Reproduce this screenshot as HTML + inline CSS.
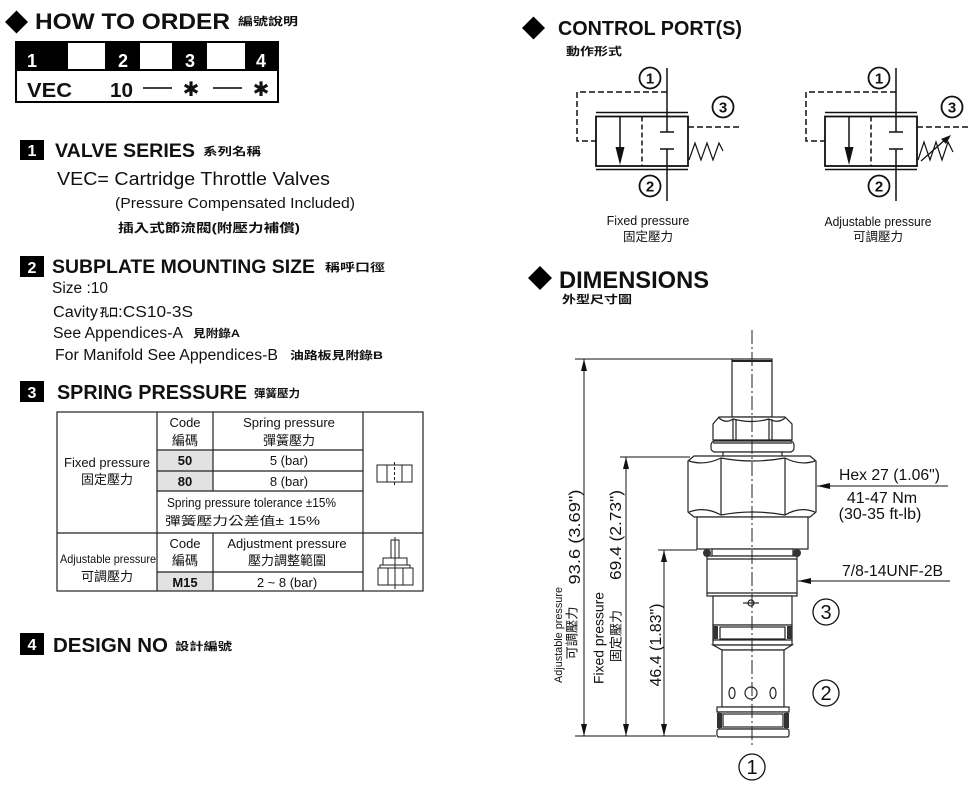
<!DOCTYPE html>
<html><head><meta charset="utf-8"><style>
html,body{margin:0;padding:0;background:#fff;}
svg{display:block;}
text{font-family:"Liberation Sans","Noto Sans CJK TC",sans-serif;fill:#111;}
.b{font-weight:bold;}
.cj{font-family:"Liberation Sans","Noto Sans CJK TC",sans-serif;}
</style></head><body>
<svg width="980" height="794" viewBox="0 0 980 794" xmlns="http://www.w3.org/2000/svg">
<rect width="980" height="794" fill="#fff"/>

<!-- HOW TO ORDER -->
<polygon points="5,22 16.5,10.5 28,22 16.5,33.5" fill="#000"/>
<text x="35" y="29" class="b" font-size="22" textLength="195" lengthAdjust="spacingAndGlyphs">HOW TO  ORDER</text>
<text x="238" y="25" class="b" font-size="11" textLength="60" lengthAdjust="spacingAndGlyphs">編號說明</text>

<rect x="16" y="42" width="262" height="60" fill="none" stroke="#000" stroke-width="2"/>
<rect x="16" y="42" width="52" height="28" fill="#000"/>
<rect x="105" y="42" width="35" height="28" fill="#000"/>
<rect x="172" y="42" width="35" height="28" fill="#000"/>
<rect x="245" y="42" width="33" height="28" fill="#000"/>
<line x1="16" y1="70" x2="278" y2="70" stroke="#000" stroke-width="2"/>
<text x="32" y="67" class="b" font-size="18" fill="#fff" text-anchor="middle" style="fill:#fff">1</text>
<text x="123" y="67" class="b" font-size="18" text-anchor="middle" style="fill:#fff">2</text>
<text x="190" y="67" class="b" font-size="18" text-anchor="middle" style="fill:#fff">3</text>
<text x="261" y="67" class="b" font-size="18" text-anchor="middle" style="fill:#fff">4</text>
<text x="27" y="97" class="b" font-size="20" textLength="45" lengthAdjust="spacingAndGlyphs">VEC</text>
<text x="110" y="97" class="b" font-size="20" textLength="23" lengthAdjust="spacingAndGlyphs">10</text>
<line x1="143" y1="88" x2="172" y2="88" stroke="#000" stroke-width="1.5"/>
<line x1="213" y1="88" x2="242" y2="88" stroke="#000" stroke-width="1.5"/>
<text x="191" y="96" font-size="20" text-anchor="middle" style="font-family:'DejaVu Sans',sans-serif">✱</text>
<text x="261" y="96" font-size="20" text-anchor="middle" style="font-family:'DejaVu Sans',sans-serif">✱</text>

<!-- Section 1 -->
<rect x="20" y="140" width="24" height="20" fill="#000"/>
<text x="32" y="156" class="b" font-size="16" text-anchor="middle" style="fill:#fff">1</text>
<text x="55" y="157" class="b" font-size="19.5" textLength="140" lengthAdjust="spacingAndGlyphs">VALVE SERIES</text>
<text x="203" y="155" class="b" font-size="11" textLength="58" lengthAdjust="spacingAndGlyphs">系列名稱</text>
<text x="57" y="185" font-size="18.5" textLength="273" lengthAdjust="spacingAndGlyphs">VEC= Cartridge Throttle Valves</text>
<text x="115" y="208" font-size="15" textLength="240" lengthAdjust="spacingAndGlyphs">(Pressure Compensated Included)</text>
<text x="118" y="232" class="b" font-size="12" textLength="182" lengthAdjust="spacingAndGlyphs">插入式節流閥(附壓力補償)</text>

<!-- Section 2 -->
<rect x="20" y="256" width="24" height="21" fill="#000"/>
<text x="32" y="273" class="b" font-size="16" text-anchor="middle" style="fill:#fff">2</text>
<text x="52" y="273" class="b" font-size="19.5" textLength="263" lengthAdjust="spacingAndGlyphs">SUBPLATE MOUNTING SIZE</text>
<text x="325" y="271" class="b" font-size="11" textLength="60" lengthAdjust="spacingAndGlyphs">稱呼口徑</text>
<text x="52" y="293" font-size="15.5" textLength="56" lengthAdjust="spacingAndGlyphs">Size :10</text>
<text x="53" y="317" font-size="15.5" textLength="45" lengthAdjust="spacingAndGlyphs">Cavity</text>
<text x="100" y="316" class="b" font-size="11" textLength="18" lengthAdjust="spacingAndGlyphs">孔口</text>
<text x="118" y="317" font-size="15.5" textLength="75" lengthAdjust="spacingAndGlyphs">:CS10-3S</text>
<text x="53" y="338" font-size="15.5" textLength="130" lengthAdjust="spacingAndGlyphs">See Appendices-A</text>
<text x="193" y="337" class="b" font-size="11" textLength="47" lengthAdjust="spacingAndGlyphs">見附錄A</text>
<text x="55" y="360" font-size="15.5" textLength="223" lengthAdjust="spacingAndGlyphs">For Manifold See Appendices-B</text>
<text x="290" y="359" class="b" font-size="11" textLength="93" lengthAdjust="spacingAndGlyphs">油路板見附錄B</text>

<!-- Section 3 -->
<rect x="20" y="381" width="24" height="21" fill="#000"/>
<text x="32" y="398" class="b" font-size="16" text-anchor="middle" style="fill:#fff">3</text>
<text x="57" y="399" class="b" font-size="20" textLength="190" lengthAdjust="spacingAndGlyphs">SPRING PRESSURE</text>
<text x="254" y="397" class="b" font-size="11" textLength="46" lengthAdjust="spacingAndGlyphs">彈簧壓力</text>

<!-- Table -->
<g stroke="#222" stroke-width="1.2" fill="none">
<rect x="157" y="450" width="56" height="41" fill="#e2e2e2" stroke="none"/>
<rect x="157" y="572" width="56" height="19" fill="#e2e2e2" stroke="none"/>
<rect x="57" y="412" width="366" height="179"/>
<line x1="157" y1="412" x2="157" y2="591"/>
<line x1="213" y1="412" x2="213" y2="491"/>
<line x1="213" y1="533" x2="213" y2="591"/>
<line x1="363" y1="412" x2="363" y2="591"/>
<line x1="157" y1="450" x2="363" y2="450"/>
<line x1="157" y1="471" x2="363" y2="471"/>
<line x1="157" y1="491" x2="363" y2="491"/>
<line x1="57" y1="533" x2="423" y2="533"/>
<line x1="157" y1="572" x2="363" y2="572"/>
</g>
<g font-size="13" text-anchor="middle">
<text x="185" y="427">Code</text>
<text x="185" y="445">編碼</text>
<text x="289" y="427">Spring pressure</text>
<text x="289" y="445">彈簧壓力</text>
<text x="185" y="465" class="b">50</text>
<text x="289" y="465">5 (bar)</text>
<text x="185" y="486" class="b">80</text>
<text x="289" y="486">8 (bar)</text>
<text x="107" y="467">Fixed pressure</text>
<text x="107" y="484">固定壓力</text>
<text x="107" y="581">可調壓力</text>
<text x="185" y="548">Code</text>
<text x="185" y="565">編碼</text>
<text x="287" y="548">Adjustment pressure</text>
<text x="287" y="565">壓力調整範圍</text>
<text x="185" y="587" class="b">M15</text>
<text x="287" y="587">2 ~ 8 (bar)</text>
</g>
<text x="167" y="507" font-size="12.5" textLength="169" lengthAdjust="spacingAndGlyphs">Spring pressure tolerance ±15%</text>
<text x="165" y="525" font-size="12" textLength="155" lengthAdjust="spacingAndGlyphs">彈簧壓力公差值± 15%</text>
<text x="60" y="563" font-size="12" textLength="96" lengthAdjust="spacingAndGlyphs">Adjustable pressure</text>
<!-- table icons -->
<g stroke="#222" stroke-width="1" fill="none">
<rect x="377" y="465" width="35" height="17"/>
<line x1="387" y1="465" x2="387" y2="482"/>
<line x1="402" y1="465" x2="402" y2="482"/>
<line x1="394.5" y1="462" x2="394.5" y2="485" stroke-dasharray="3 2"/>
<rect x="391" y="540" width="8" height="18"/>
<rect x="383" y="558" width="24" height="7"/>
<rect x="380" y="565" width="30" height="3"/>
<rect x="378" y="568" width="35" height="17"/>
<line x1="388" y1="568" x2="388" y2="585"/>
<line x1="403" y1="568" x2="403" y2="585"/>
<line x1="395" y1="537" x2="395" y2="589"/>
</g>

<!-- Section 4 -->
<rect x="20" y="633" width="24" height="22" fill="#000"/>
<text x="32" y="650" class="b" font-size="16" text-anchor="middle" style="fill:#fff">4</text>
<text x="53" y="652" class="b" font-size="20" textLength="115" lengthAdjust="spacingAndGlyphs">DESIGN NO</text>
<text x="175" y="650" class="b" font-size="11" textLength="57" lengthAdjust="spacingAndGlyphs">設計編號</text>

<!-- CONTROL PORT(S) -->
<polygon points="522,28 533.5,16.5 545,28 533.5,39.5" fill="#000"/>
<text x="558" y="35" class="b" font-size="20" textLength="184" lengthAdjust="spacingAndGlyphs">CONTROL PORT(S)</text>
<text x="566" y="55" class="b" font-size="11" textLength="56" lengthAdjust="spacingAndGlyphs">動作形式</text>

<g id="sym" stroke="#111" stroke-width="1.5" fill="none">
<line x1="667" y1="68" x2="667" y2="132"/>
<line x1="667" y1="149" x2="667" y2="201"/>
<line x1="660" y1="132" x2="674" y2="132"/>
<line x1="660" y1="149" x2="674" y2="149"/>
<rect x="596" y="116.5" width="92" height="49.5" stroke-width="1.8"/>
<line x1="596" y1="112.5" x2="688" y2="112.5"/>
<line x1="596" y1="169.5" x2="688" y2="169.5"/>
<line x1="642" y1="116.5" x2="642" y2="166" stroke-dasharray="5 3"/>
<line x1="620" y1="116.5" x2="620" y2="150"/>
<polygon points="615.5,147 624.5,147 620,165" fill="#111" stroke="none"/>
<polyline points="667,92 577,92 577,141 596,141" stroke-dasharray="6 3"/>
<line x1="688" y1="127" x2="740" y2="127" stroke-dasharray="6 3"/>
<circle cx="650" cy="78" r="10.5" stroke-width="1.8"/>
<circle cx="650" cy="186" r="10.5" stroke-width="1.8"/>
<circle cx="723" cy="107" r="10.5" stroke-width="1.8"/>
</g>
<polyline points="689,160 695,143 701,160 707,143 713,160 719,143 723,151" fill="none" stroke="#111" stroke-width="1.2"/>
<g class="b" font-size="15" text-anchor="middle">
<text x="650" y="83.5">1</text>
<text x="650" y="191.5">2</text>
<text x="723" y="112.5">3</text>
</g>
<text x="648" y="225" font-size="12.5" text-anchor="middle">Fixed pressure</text>
<text x="648" y="241" font-size="12.5" text-anchor="middle">固定壓力</text>

<use href="#sym" transform="translate(229,0)"/>
<polyline points="918,160 924,142 930,160 936,142 942,160 948,142 953,152" fill="none" stroke="#111" stroke-width="1.2"/>
<line x1="921" y1="161" x2="946" y2="139" stroke="#111" stroke-width="1.3"/>
<polygon points="951,135 941,139 946,144" fill="#111"/>
<g class="b" font-size="15" text-anchor="middle">
<text x="879" y="83.5">1</text>
<text x="879" y="191.5">2</text>
<text x="952" y="112.5">3</text>
</g>
<text x="878" y="226" font-size="12.5" text-anchor="middle" textLength="107" lengthAdjust="spacingAndGlyphs">Adjustable pressure</text>
<text x="878" y="241" font-size="12.5" text-anchor="middle">可調壓力</text>

<!-- DIMENSIONS -->
<polygon points="528,278 540,266 552,278 540,290" fill="#000"/>
<text x="559" y="288" class="b" font-size="24" textLength="150" lengthAdjust="spacingAndGlyphs">DIMENSIONS</text>
<text x="562" y="303" class="b" font-size="11" textLength="70" lengthAdjust="spacingAndGlyphs">外型尺寸圖</text>

<!-- cartridge drawing -->
<g stroke="#222" stroke-width="1.2" fill="#fff">
<rect x="732" y="359" width="40" height="58"/>
<line x1="732" y1="361" x2="772" y2="361" stroke-width="2"/>
<polygon points="713,424 719,417 785,417 792,424 792,440 713,440"/>
<line x1="733" y1="419" x2="733" y2="440"/>
<line x1="736" y1="419" x2="736" y2="440"/>
<line x1="769" y1="419" x2="769" y2="440"/>
<line x1="772" y1="419" x2="772" y2="440"/>
<path d="M719,418 Q726,424 733,419 Q752,424 769,419 Q778,424 785,418" fill="none"/>
<rect x="711" y="441" width="83" height="11" rx="4"/>
<line x1="713" y1="443" x2="792" y2="443"/>
<rect x="723" y="452" width="59" height="5"/>
<polygon points="688,461 694,456 810,456 816,461 816,512 810,517 694,517 688,512"/>
<line x1="721" y1="458" x2="721" y2="515"/>
<line x1="785" y1="458" x2="785" y2="515"/>
<path d="M689,461 Q705,466 721,458 Q752,464 785,458 Q800,466 815,461" fill="none"/>
<path d="M689,512 Q705,506 721,515 Q752,509 785,515 Q800,506 815,512" fill="none"/>
<rect x="697" y="517" width="111" height="32"/>
<rect x="712" y="549" width="81" height="7"/>
<rect x="707" y="556" width="90" height="40"/>
<line x1="707" y1="559" x2="797" y2="559"/>
<line x1="707" y1="593" x2="797" y2="593"/>
<rect x="713" y="596" width="79" height="29"/>
<rect x="713" y="625" width="79" height="15"/>
<rect x="720" y="627" width="65" height="12"/>
<rect x="713" y="640" width="79" height="5"/>
<polygon points="713,645 792,645 784,650 722,650"/>
<rect x="722" y="650" width="62" height="57"/>
<rect x="717" y="707" width="72" height="5"/>
<rect x="719" y="712" width="68" height="17"/>
<rect x="723" y="714" width="60" height="13"/>
<rect x="717" y="729" width="72" height="8" rx="2"/>
<ellipse cx="732" cy="693" rx="3" ry="5.5"/>
<circle cx="751" cy="693" r="6"/>
<ellipse cx="773" cy="693" rx="3" ry="5.5"/>
<circle cx="751" cy="603" r="3" fill="none"/>
<line x1="743" y1="603" x2="759" y2="603"/>
</g>
<g fill="#333">
<circle cx="707" cy="553" r="4"/>
<circle cx="797" cy="553" r="4"/>
<rect x="713" y="626" width="5" height="13"/>
<rect x="787" y="626" width="5" height="13"/>
<rect x="717" y="713" width="5" height="15"/>
<rect x="784" y="713" width="5" height="15"/>
</g>
<line x1="752" y1="330" x2="752" y2="746" stroke="#222" stroke-width="1" stroke-dasharray="14 3 2 3"/>

<!-- dimension lines -->
<g stroke="#111" stroke-width="1" fill="none">
<line x1="575" y1="359" x2="732" y2="359"/>
<line x1="584" y1="359" x2="584" y2="736"/>
<line x1="620" y1="457" x2="690" y2="457"/>
<line x1="626" y1="457" x2="626" y2="736"/>
<line x1="658" y1="550" x2="697" y2="550"/>
<line x1="664" y1="550" x2="664" y2="736"/>
<line x1="575" y1="736" x2="716" y2="736"/>
<line x1="817" y1="486" x2="948" y2="486"/>
<line x1="798" y1="581" x2="950" y2="581"/>
</g>
<g fill="#111">
<polygon points="584,359 581,371 587,371"/>
<polygon points="584,736 581,724 587,724"/>
<polygon points="626,457 623,469 629,469"/>
<polygon points="626,736 623,724 629,724"/>
<polygon points="664,550 661,562 667,562"/>
<polygon points="664,736 661,724 667,724"/>
<polygon points="817,486 830,483 830,489"/>
<polygon points="798,581 811,578 811,584"/>
</g>
<text transform="translate(580,537) rotate(-90)" font-size="16" text-anchor="middle" textLength="95" lengthAdjust="spacingAndGlyphs">93.6 (3.69")</text>
<text transform="translate(621,535) rotate(-90)" font-size="16" text-anchor="middle" textLength="90" lengthAdjust="spacingAndGlyphs">69.4 (2.73")</text>
<text transform="translate(661,645) rotate(-90)" font-size="16" text-anchor="middle" textLength="83" lengthAdjust="spacingAndGlyphs">46.4 (1.83")</text>
<text transform="translate(562,635) rotate(-90)" font-size="11" text-anchor="middle" textLength="96" lengthAdjust="spacingAndGlyphs">Adjustable pressure</text>
<text transform="translate(576.5,633) rotate(-90)" font-size="13" text-anchor="middle" textLength="53" lengthAdjust="spacingAndGlyphs">可調壓力</text>
<text transform="translate(603.5,638) rotate(-90)" font-size="13.5" text-anchor="middle" textLength="92" lengthAdjust="spacingAndGlyphs">Fixed pressure</text>
<text transform="translate(620.5,636) rotate(-90)" font-size="13" text-anchor="middle" textLength="52" lengthAdjust="spacingAndGlyphs">固定壓力</text>

<text x="839" y="480" font-size="16" textLength="101" lengthAdjust="spacingAndGlyphs">Hex 27 (1.06")</text>
<text x="882" y="503" font-size="16" text-anchor="middle">41-47 Nm</text>
<text x="880" y="519" font-size="16" text-anchor="middle">(30-35 ft-lb)</text>
<text x="842" y="576" font-size="16" textLength="101" lengthAdjust="spacingAndGlyphs">7/8-14UNF-2B</text>

<g stroke="#111" stroke-width="1.3" fill="none">
<circle cx="826" cy="612" r="13"/>
<circle cx="826" cy="693" r="13"/>
<circle cx="752" cy="767" r="13"/>
</g>
<g font-size="20" text-anchor="middle">
<text x="826" y="619">3</text>
<text x="826" y="700">2</text>
<text x="752" y="774">1</text>
</g>
</svg>
</body></html>
